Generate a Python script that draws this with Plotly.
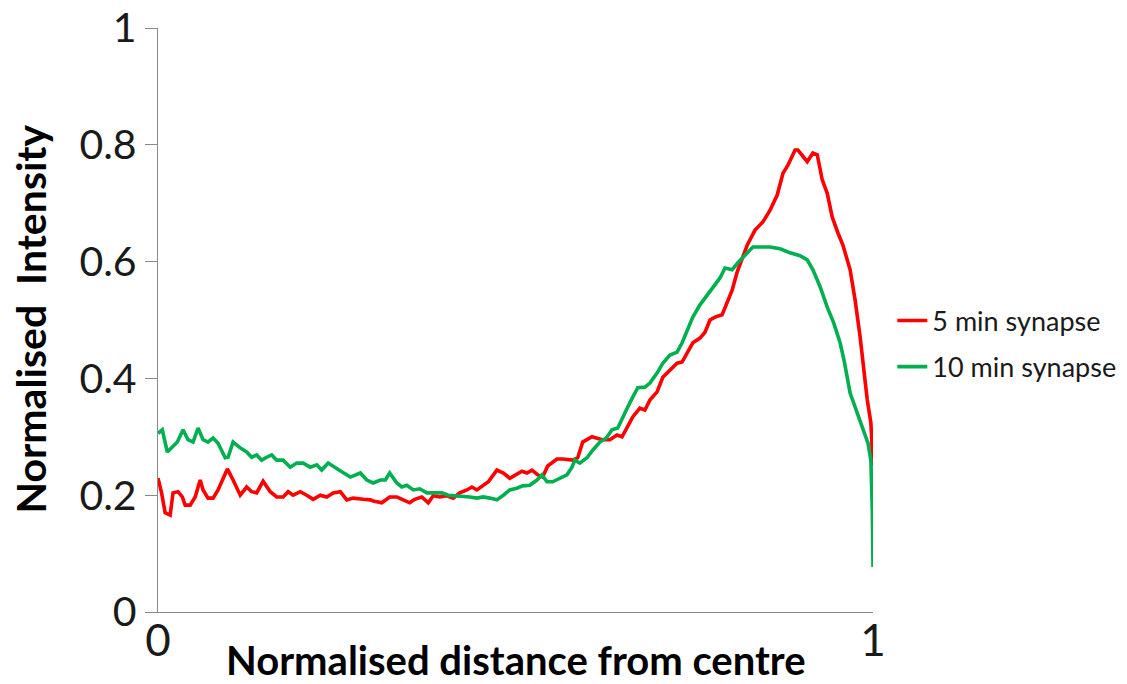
import plotly.graph_objects as go

# Normalised intensity profiles along the synapse radius
red_x = [0.000, 0.005, 0.010, 0.017, 0.021, 0.028, 0.034, 0.038, 0.045, 0.052,
         0.059, 0.063, 0.070, 0.077, 0.084, 0.097, 0.105, 0.115, 0.124, 0.131,
         0.138, 0.147, 0.157, 0.166, 0.175, 0.182, 0.189, 0.199, 0.208, 0.217,
         0.227, 0.236, 0.245, 0.255, 0.264, 0.273, 0.287, 0.297, 0.301, 0.313,
         0.324, 0.334, 0.343, 0.352, 0.359, 0.369, 0.378, 0.385, 0.394, 0.404,
         0.413, 0.422, 0.432, 0.439, 0.446, 0.453, 0.462, 0.474, 0.483, 0.492,
         0.502, 0.509, 0.516, 0.523, 0.531, 0.538, 0.545, 0.558, 0.566, 0.580,
         0.587, 0.594, 0.607, 0.614, 0.621, 0.632, 0.642, 0.649, 0.656, 0.664,
         0.674, 0.681, 0.688, 0.698, 0.706, 0.716, 0.726, 0.733, 0.740, 0.748,
         0.758, 0.765, 0.772, 0.779, 0.789, 0.796, 0.803, 0.810, 0.824, 0.835,
         0.846, 0.856, 0.866, 0.874, 0.881, 0.891, 0.895, 0.908, 0.916, 0.922,
         0.929, 0.936, 0.943, 0.951, 0.958, 0.968, 0.975, 0.982, 0.986, 0.992,
         0.997, 1.000]
red_y = [0.229, 0.204, 0.170, 0.166, 0.204, 0.206, 0.197, 0.183, 0.183, 0.197,
         0.226, 0.209, 0.195, 0.195, 0.209, 0.245, 0.226, 0.200, 0.214, 0.206,
         0.204, 0.224, 0.206, 0.197, 0.197, 0.206, 0.200, 0.206, 0.200, 0.193,
         0.200, 0.197, 0.204, 0.206, 0.192, 0.195, 0.193, 0.192, 0.190, 0.187,
         0.197, 0.197, 0.192, 0.187, 0.193, 0.197, 0.187, 0.199, 0.197, 0.199,
         0.195, 0.204, 0.209, 0.214, 0.209, 0.216, 0.223, 0.243, 0.238, 0.229,
         0.236, 0.241, 0.238, 0.243, 0.235, 0.231, 0.250, 0.262, 0.262, 0.260,
         0.264, 0.291, 0.300, 0.298, 0.295, 0.295, 0.303, 0.300, 0.317, 0.334,
         0.349, 0.346, 0.363, 0.377, 0.402, 0.414, 0.426, 0.428, 0.443, 0.461,
         0.469, 0.479, 0.500, 0.505, 0.509, 0.530, 0.551, 0.582, 0.628, 0.654,
         0.668, 0.688, 0.714, 0.751, 0.765, 0.791, 0.791, 0.771, 0.786, 0.783,
         0.740, 0.717, 0.676, 0.649, 0.628, 0.586, 0.534, 0.471, 0.426, 0.363,
         0.324, 0.250]

green_x = [0.000, 0.006, 0.013, 0.020, 0.027, 0.035, 0.042, 0.049, 0.056, 0.063,
           0.070, 0.077, 0.084, 0.094, 0.098, 0.105, 0.115, 0.124, 0.131, 0.138,
           0.145, 0.152, 0.159, 0.166, 0.175, 0.185, 0.194, 0.203, 0.213, 0.222,
           0.229, 0.238, 0.248, 0.257, 0.269, 0.276, 0.283, 0.292, 0.301, 0.311,
           0.318, 0.324, 0.334, 0.341, 0.348, 0.357, 0.366, 0.376, 0.385, 0.397,
           0.406, 0.418, 0.427, 0.436, 0.446, 0.455, 0.464, 0.474, 0.483, 0.492,
           0.502, 0.510, 0.520, 0.530, 0.537, 0.544, 0.552, 0.562, 0.572, 0.579,
           0.583, 0.590, 0.600, 0.608, 0.618, 0.627, 0.635, 0.643, 0.650, 0.657,
           0.664, 0.671, 0.681, 0.688, 0.698, 0.706, 0.716, 0.726, 0.733, 0.740,
           0.748, 0.758, 0.768, 0.776, 0.786, 0.793, 0.803, 0.811, 0.824, 0.832,
           0.845, 0.856, 0.870, 0.884, 0.898, 0.908, 0.916, 0.926, 0.936, 0.945,
           0.954, 0.960, 0.968, 0.982, 0.993, 0.997, 0.999, 1.000]
green_y = [0.306, 0.312, 0.274, 0.283, 0.291, 0.312, 0.295, 0.291, 0.315, 0.295,
           0.291, 0.298, 0.289, 0.264, 0.265, 0.291, 0.281, 0.274, 0.265, 0.269,
           0.260, 0.265, 0.269, 0.260, 0.260, 0.248, 0.255, 0.255, 0.248, 0.252,
           0.243, 0.255, 0.248, 0.240, 0.231, 0.235, 0.238, 0.226, 0.221, 0.226,
           0.226, 0.238, 0.221, 0.214, 0.217, 0.209, 0.211, 0.204, 0.204, 0.204,
           0.200, 0.199, 0.197, 0.197, 0.195, 0.197, 0.195, 0.192, 0.200, 0.209,
           0.212, 0.216, 0.217, 0.226, 0.235, 0.223, 0.223, 0.229, 0.235, 0.248,
           0.260, 0.255, 0.264, 0.277, 0.291, 0.298, 0.312, 0.315, 0.334, 0.351,
           0.368, 0.384, 0.385, 0.392, 0.409, 0.426, 0.440, 0.445, 0.461, 0.483,
           0.505, 0.526, 0.543, 0.557, 0.572, 0.589, 0.586, 0.598, 0.615, 0.625,
           0.625, 0.625, 0.622, 0.615, 0.610, 0.603, 0.586, 0.557, 0.522, 0.495,
           0.461, 0.428, 0.375, 0.329, 0.289, 0.260, 0.175, 0.077]

series_names = ["5 min synapse", "10 min synapse"]
series_colors = ["#FF0000", "#00B050"]

y_ticks = [0, 0.2, 0.4, 0.6, 0.8, 1]
y_tick_text = ["0", "0.2", "0.4", "0.6", "0.8", "1"]
x_ticks = [0, 1]
x_tick_text = ["0", "1"]

x_title = "Normalised distance from centre"
y_title = "Normalised  Intensity"

FONT = "Lato, 'Open Sans', sans-serif"
AXIS_GREY = "#898989"
TEXT = "#1a1a1a"

fig = go.Figure()
for i, (xs, ys) in enumerate([(red_x, red_y), (green_x, green_y)]):
    fig.add_trace(go.Scatter(
        x=xs, y=ys, mode="lines", name=series_names[i],
        legendgroup=series_names[i],
        line=dict(color=series_colors[i], width=3.6),
        cliponaxis=False,
    ))

fig.update_layout(
    width=1127, height=684,
    margin=dict(l=158, r=254, t=28, b=72, autoexpand=False),
    paper_bgcolor="white", plot_bgcolor="white",
    font=dict(family=FONT, color=TEXT),
    showlegend=True,
    legend=dict(
        x=1.027, y=0.459, xanchor="left", yanchor="middle",
        font=dict(size=27, family=FONT, color=TEXT),
        tracegroupgap=8, itemwidth=30,
        bgcolor="rgba(0,0,0,0)",
    ),
    annotations=[
        dict(text="<b>" + x_title + "</b>", xref="paper", yref="paper",
             x=0.50, y=-0.082, xanchor="center", yanchor="middle",
             showarrow=False, font=dict(size=40, family=FONT, color="#000")),
        dict(text="<b>" + y_title + "</b>", xref="paper", yref="paper",
             x=-0.178, y=0.502, xanchor="center", yanchor="middle",
             textangle=-90, showarrow=False,
             font=dict(size=41, family=FONT, color="#000")),
    ],
)

fig.update_xaxes(
    range=[0, 1], tickvals=x_ticks, ticktext=x_tick_text, automargin=False,
    showline=True, linecolor=AXIS_GREY, linewidth=1.3,
    ticks="", showgrid=False, zeroline=False,
    ticklabelstandoff=-10,
    tickfont=dict(size=44, family=FONT, color=TEXT),
)
fig.update_yaxes(
    range=[0, 1], tickvals=y_ticks, ticktext=y_tick_text, automargin=False,
    showline=True, linecolor=AXIS_GREY, linewidth=1.3,
    ticks="outside", ticklen=12, tickcolor=AXIS_GREY, tickwidth=1.3,
    showgrid=False, zeroline=False,
    tickfont=dict(size=41, family=FONT, color=TEXT),
)

fig.write_html("out.html")
